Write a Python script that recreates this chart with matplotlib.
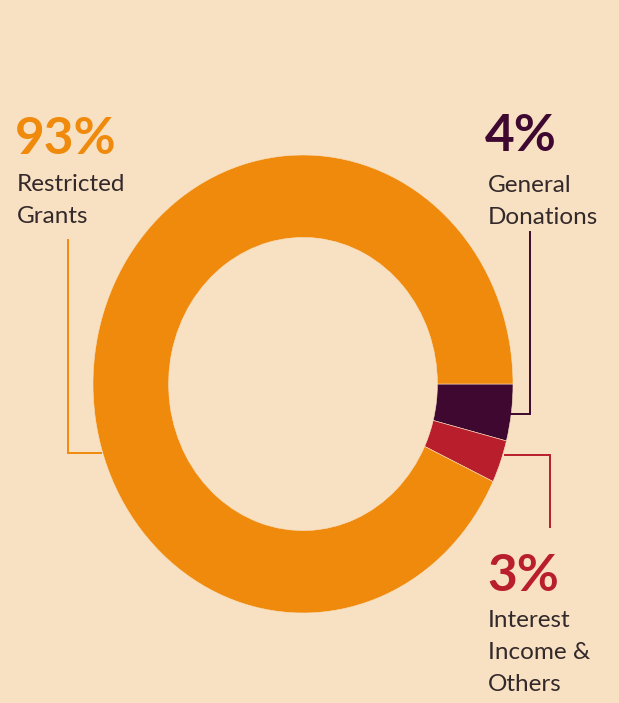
import matplotlib
matplotlib.use("Agg")
import matplotlib.pyplot as plt

# ---- data ----
categories = ["General\nDonations", "Interest\nIncome &\nOthers", "Restricted\nGrants"]
values = [4, 3, 93]
pct_labels = ["4%", "3%", "93%"]
colors = ["#3E0830", "#B81E2C", "#F08A0C"]
text_colors = ["#3E0830", "#B81E2C", "#F08A0C"]

BG = "#F8E1C3"
W, H = 619, 703
fig = plt.figure(figsize=(W / 100, H / 100), dpi=100, facecolor=BG)

# donut axes (slightly taller than wide, as in the reference)
x0, x1, y0, y1 = 93, 513, 155, 613
pax = fig.add_axes([x0 / W, 1 - y1 / H, (x1 - x0) / W, (y1 - y0) / H])
pax.set_facecolor(BG)
pax.pie(values, colors=colors, startangle=0, counterclock=False, radius=1.0,
        wedgeprops=dict(width=0.36, edgecolor=BG, linewidth=0.4))
pax.set_aspect("auto")
pax.set_xlim(-1, 1)
pax.set_ylim(-1, 1)
pax.axis("off")

# overlay axes in pixel coordinates for labels and leaders
ax = fig.add_axes([0, 0, 1, 1], facecolor="none")
ax.set_xlim(0, W)
ax.set_ylim(H, 0)
ax.axis("off")

FONT = "Lato"
LABEL_COLOR = "#33292A"
PCT_SIZE = 37
LBL_SIZE = 17.5

# Restricted Grants (left)
ax.text(15, 154, pct_labels[2], color=text_colors[2], fontsize=PCT_SIZE, fontweight="bold",
        family=FONT, va="baseline", ha="left")
ax.text(17, 191, "Restricted", color=LABEL_COLOR, fontsize=LBL_SIZE, family=FONT, va="baseline")
ax.text(17, 223, "Grants", color=LABEL_COLOR, fontsize=LBL_SIZE, family=FONT, va="baseline")
ax.plot([68, 68, 101], [240, 453, 453], color=colors[2], lw=1.4, solid_joinstyle="miter")

# General Donations (top right)
ax.text(485, 151, pct_labels[0], color=text_colors[0], fontsize=PCT_SIZE, fontweight="bold",
        family=FONT, va="baseline", ha="left")
ax.text(488, 192, "General", color=LABEL_COLOR, fontsize=LBL_SIZE, family=FONT, va="baseline")
ax.text(488, 224, "Donations", color=LABEL_COLOR, fontsize=LBL_SIZE, family=FONT, va="baseline")
ax.plot([530, 530, 510], [232, 414, 414], color=colors[0], lw=1.4, solid_joinstyle="miter")

# Interest Income & Others (bottom right)
ax.text(487, 591, pct_labels[1], color=text_colors[1], fontsize=PCT_SIZE, fontweight="bold",
        family=FONT, va="baseline", ha="left")
ax.text(488, 627, "Interest", color=LABEL_COLOR, fontsize=LBL_SIZE, family=FONT, va="baseline")
ax.text(488, 659, "Income &", color=LABEL_COLOR, fontsize=LBL_SIZE, family=FONT, va="baseline")
ax.text(488, 691, "Others", color=LABEL_COLOR, fontsize=LBL_SIZE, family=FONT, va="baseline")
ax.plot([505, 550, 550], [455, 455, 527], color=colors[1], lw=1.4, solid_joinstyle="miter")

fig.savefig("out.png", dpi=100, facecolor=BG)
